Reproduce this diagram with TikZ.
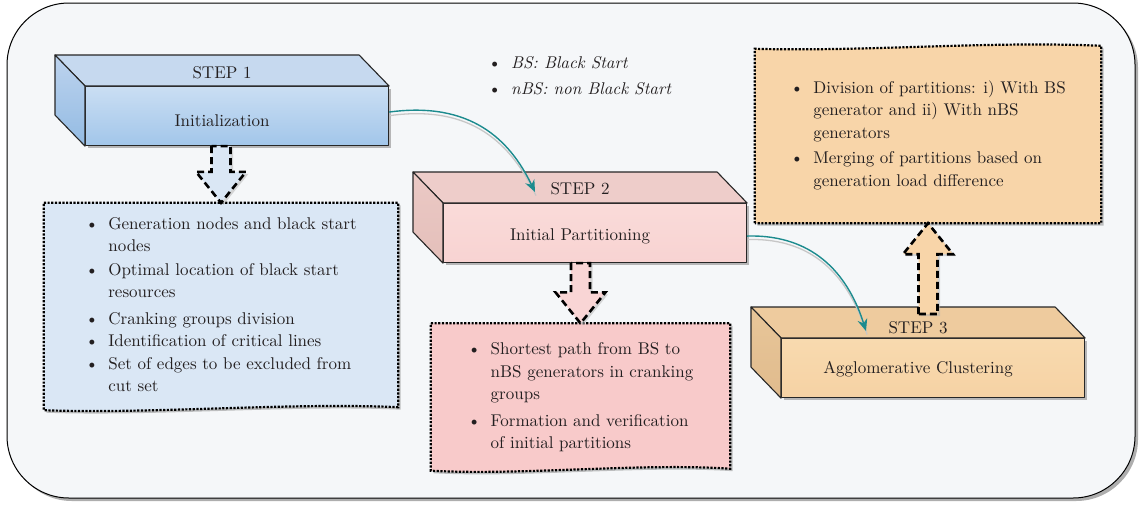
\documentclass[tikz,border=0pt]{standalone}
\usepackage{fontspec}
\setmainfont{lmroman10-regular.otf}[ItalicFont=lmroman10-italic.otf,BoldFont=lmroman10-bold.otf]
\usetikzlibrary{calc,arrows.meta,shadows}
\pgfdeclarelayer{frame}
\pgfdeclarelayer{background}
\pgfsetlayers{frame,background,main}

\definecolor{framebg}{HTML}{F5F7F9}
\definecolor{ink}{HTML}{231F20}
\definecolor{flowteal}{HTML}{1C8B8E}
% blue block (step 1)
\definecolor{bluefrontA}{HTML}{CADEF3}
\definecolor{bluefrontB}{HTML}{A2C6EA}
\definecolor{bluetopc}{HTML}{C6D9EF}
\definecolor{bluesideA}{HTML}{BDD3EE}
\definecolor{bluesideB}{HTML}{93BBE3}
\definecolor{bluenote}{HTML}{DAE7F5}
% pink block (step 2)
\definecolor{pinkfrontA}{HTML}{FADBD9}
\definecolor{pinkfrontB}{HTML}{F8D3D2}
\definecolor{pinktopc}{HTML}{EECDCA}
\definecolor{pinksideA}{HTML}{EBC9C5}
\definecolor{pinksideB}{HTML}{E4BFBA}
\definecolor{pinknote}{HTML}{F8CACA}
% orange block (step 3)
\definecolor{orfrontA}{HTML}{F8DAAF}
\definecolor{orfrontB}{HTML}{F6D2A4}
\definecolor{ortopc}{HTML}{EECB9E}
\definecolor{orsideA}{HTML}{E8C699}
\definecolor{orsideB}{HTML}{E0BB8D}
\definecolor{ornote}{HTML}{F8D5A9}

\newcommand\bul{\makebox[23pt][l]{\textbullet}}

% 3D step block: name, front top-left, colour prefix, step label, title,
% baseline offsets of the two labels from the front's top edge
\newcommand\stepblock[7]{%
  \node[stepfront,#3front] (#1) at (#2) {};
  \draw[face,#3top] (#1.north west) -- ++(-30,-31) -- ($(#1.north east)+(-30,-31)$) -- (#1.north east) -- cycle;
  \draw[face,#3side] (#1.north west) -- ++(-30,-31) -- ($(#1.south west)+(-30,-31)$) -- (#1.south west) -- cycle;
  \node[steptext] (#1-step) at ($(#1.north)+(-15,#6)$) {#4};
  \node[steptext] (#1-title) at ($(#1.north)+(-15,#7)$) {#5};
}

% hollow dashed block arrow from #2 (shaft end) to #3 (tip)
\newcommand\fatarrow[3]{%
  \draw[fat,fill=#1] let \p1=(#2), \p2=(#3), \n1={ifthenelse(\y2<\y1,31,-31)} in
    (\x1-9.5pt,\y1) -- (\x1-9.5pt,\y2+\n1) -- (\x1-25pt,\y2+\n1) -- (\x2,\y2)
    -- (\x1+25pt,\y2+\n1) -- (\x1+9.5pt,\y2+\n1) -- (\x1+9.5pt,\y1) -- cycle;
}

\begin{document}
\begin{tikzpicture}[x=1pt,y=-1pt,
  font=\fontsize{17}{22.5}\selectfont, text=ink,
  face/.style={draw=black!85,line width=1.1pt,line join=round},
  stepfront/.style={face,minimum width=303pt,minimum height=59pt,anchor=north west,inner sep=0pt,
    drop shadow={shadow xshift=2.5pt,shadow yshift=-2.5pt,fill=black!45,opacity=.6}},
  steptext/.style={anchor=base,inner sep=0pt},
  bluefront/.style={top color=bluefrontA,bottom color=bluefrontB},
  bluetop/.style={fill=bluetopc},
  blueside/.style={top color=bluesideA,bottom color=bluesideB},
  pinkfront/.style={top color=pinkfrontA,bottom color=pinkfrontB},
  pinktop/.style={fill=pinktopc},
  pinkside/.style={top color=pinksideA,bottom color=pinksideB},
  orfront/.style={top color=orfrontA,bottom color=orfrontB},
  ortop/.style={fill=ortopc},
  orside/.style={top color=orsideA,bottom color=orsideB},
  note/.style={inner sep=0pt,align=left},
  noteedge/.style={draw=black,line width=2.2pt,dash pattern=on 2.2pt off 1.5pt,
    drop shadow={shadow xshift=2.5pt,shadow yshift=-2.5pt,fill=black!40,opacity=.6}},
  fat/.style={draw=black,line width=2.6pt,dash pattern=on 7pt off 4pt,line join=miter,
    drop shadow={shadow xshift=2.5pt,shadow yshift=-2pt,fill=black!30,opacity=.5}},
  flow/.style={draw=flowteal,line width=1.4pt,-{Stealth[length=12pt,width=10pt]}},
  flowshade/.style={draw=black!22,line width=1.3pt,transform canvas={shift={(1pt,-3.5pt)}}},
]
\useasboundingbox (0,0) rectangle (1139,504);

% outer frame
\begin{pgfonlayer}{frame}
  \fill[white] (0,0) rectangle (1139,504);
  \draw[fill=framebg,line width=1pt,rounded corners=62pt,
    drop shadow={shadow xshift=3pt,shadow yshift=-3pt,fill=black!45,opacity=.7}]
    (7,3) rectangle (1135,498);
\end{pgfonlayer}

% the three steps
\stepblock{s1}{85,86}{blue}{STEP 1}{Initialization}{-8}{40}
\stepblock{s2}{443,203}{pink}{STEP 2}{Initial Partitioning}{-9}{37}
\stepblock{s3}{781,338}{or}{STEP 3}{Agglomerative Clustering}{-5}{35}

% legend
\node[anchor=base west,inner sep=0pt] (legend) at (488,68)
  {\begin{tabular}[t]{@{}l@{}l@{}}
    \bul & \textit{BS: Black Start}\\[3.5pt]
    \bul & \textit{nBS: non Black Start}
  \end{tabular}};

% notes
\node[note,minimum width=354pt,minimum height=206pt] (b1) at (221,306)
  {\begin{tabular}{@{}l@{}l@{}}
    \bul & Generation nodes and black start\\
         & nodes\\[1pt]
    \bul & Optimal location of black start\\
         & resources\\[4pt]
    \bul & Cranking groups division\\
    \bul & Identification of critical lines\\
    \bul & Set of edges to be excluded from\\
         & cut set
  \end{tabular}};
\node[note,minimum width=299pt,minimum height=147pt] (b2) at (580.5,397)
  {\begin{tabular}{@{}l@{}l@{}}
    \bul & Shortest path from BS to\\
         & nBS generators in cranking\\
         & groups\\[4pt]
    \bul & Formation and verification\\
         & of initial partitions
  \end{tabular}};
\node[note,minimum width=346pt,minimum height=176pt] (b4) at (928,135)
  {\begin{tabular}{@{}l@{}l@{}}
    \bul & Division of partitions: i) With BS\\
         & generator and ii) With nBS\\
         & generators\\[3pt]
    \bul & Merging of partitions based on\\
         & generation load difference
  \end{tabular}};

\begin{pgfonlayer}{background}
  \draw[noteedge,fill=bluenote] (b1.north west) -- (b1.north east) -- ($(b1.south east)+(0,-2)$)
    .. controls ($(b1.south)+(70,-7)$) and ($(b1.south)+(-70,5)$) .. ($(b1.south west)+(0,1)$) -- cycle;
  \draw[noteedge,fill=pinknote] (b2.north west) -- (b2.north east) -- ($(b2.south east)+(0,-2)$)
    .. controls ($(b2.south)+(60,-8)$) and ($(b2.south)+(-60,5)$) .. (b2.south west) -- cycle;
  \draw[noteedge,fill=ornote] (b4.south west) -- ($(b4.north west)+(0,2)$)
    .. controls ($(b4.north)+(-60,5)$) and ($(b4.north)+(60,-6)$) .. ($(b4.north east)+(0,-1)$)
    -- (b4.south east) -- cycle;
\end{pgfonlayer}

% block arrows from the steps to their notes
\fatarrow{bluenote}{s1.south -| b1.north}{b1.north}
\fatarrow{pinknote!80!white}{s2.south -| b2.north}{b2.north}
\fatarrow{ornote}{$(s3.north -| b4.south)+(0,-24)$}{b4.south}

% flow between the steps
\coordinate (in2) at ($(s2.north west)+(92,-11)$);
\coordinate (in3) at ($(s3.north west)+(85,-7)$);
\draw[flowshade] ($(s1.east)+(0,-4)$) .. controls +(82,-11) and +(-25,-52) .. (in2);
\draw[flow] ($(s1.east)+(0,-4)$) .. controls +(82,-11) and +(-25,-52) .. (in2);
\draw[flowshade] ($(s2.east)+(0,3)$) .. controls +(71,-2) and +(-16,-51) .. (in3);
\draw[flow] ($(s2.east)+(0,3)$) .. controls +(71,-2) and +(-16,-51) .. (in3);
\end{tikzpicture}
\end{document}
